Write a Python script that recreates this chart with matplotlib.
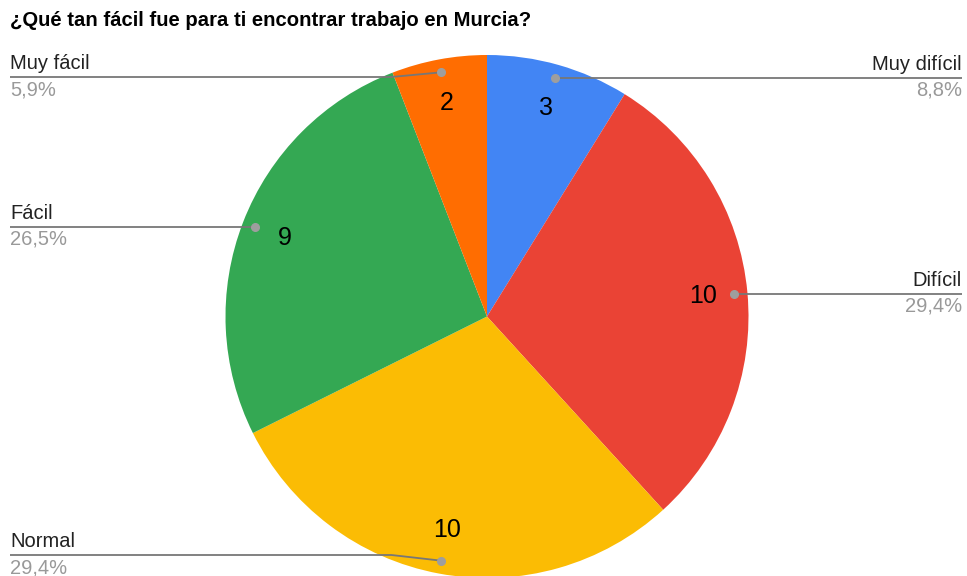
import numpy as np
import matplotlib.pyplot as plt

plt.rcParams['font.family'] = ['Liberation Sans', 'DejaVu Sans']

title = "¿Qué tan fácil fue para ti encontrar trabajo en Murcia?"
categories = ["Muy difícil", "Difícil", "Normal", "Fácil", "Muy fácil"]
counts = [3, 10, 10, 9, 2]
colors = ["#4285F4", "#EA4335", "#FBBC04", "#34A853", "#FF6D01"]

W, H = 967, 576
fig = plt.figure(figsize=(W / 100, H / 100), dpi=100)
ax = fig.add_axes([0, 0, 1, 1])
ax.set_xlim(0, W)
ax.set_ylim(0, H)
ax.set_aspect('equal')
ax.axis('off')

# pie geometry in pixel coords (y up)
cx, cy, R = 487, H - 316.5, 261.5
total = sum(counts)

wedges, _, autotexts = ax.pie(
    counts, colors=colors, startangle=90, counterclock=False,
    center=(cx, cy), radius=R, frame=True,
    autopct=lambda p: f"{round(p * total / 100)}", pctdistance=0.83,
    wedgeprops=dict(linewidth=0),
    textprops=dict(fontsize=18, color="#000000"))
ax.set_xlim(0, W)
ax.set_ylim(0, H)
ax.axis('off')

y_top, y_bot = H - 77, H - 555
for w, name, n in zip(wedges, categories, counts):
    mid = np.deg2rad((w.theta1 + w.theta2) / 2)
    dx, dy = cx + 0.95 * R * np.cos(mid), cy + 0.95 * R * np.sin(mid)
    ly = min(max(dy, y_bot), y_top)
    pct = f"{100 * n / total:.1f}%".replace(".", ",")
    if dx < cx:
        xs = [dx, dx - 50, 10]
        tx, ha = 10, 'left'
    else:
        xs = [dx, dx + 50, 962]
        tx, ha = 962, 'right'
    ax.plot(xs, [dy, ly, ly], color="#777777", lw=1.3, solid_capstyle='butt')
    ax.plot([dx], [dy], 'o', color="#9e9e9e", ms=5.5)
    ax.text(tx, ly + 4, name, ha=ha, va='bottom', fontsize=14.5, color="#222222")
    ax.text(tx, ly - 3, pct, ha=ha, va='top', fontsize=14.5, color="#999999")

fig.text(10 / W, 1 - 20 / H, title, ha='left', va='center',
         fontsize=14.6, fontweight='bold', color="#000000")

fig.savefig("out.png", dpi=100, facecolor="white")
